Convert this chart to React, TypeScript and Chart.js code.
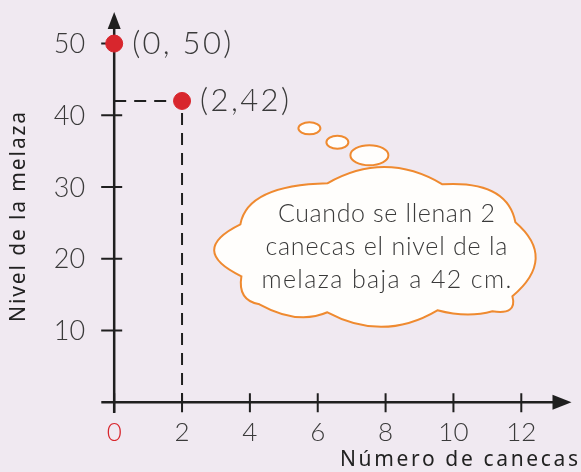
import React, { useEffect, useRef } from "react";
import { Chart, registerables } from "chart.js";

Chart.register(...registerables);

// ---- data ----
const pointX = [0, 2];
const pointY = [50, 42];
const pointLabels = ["(0, 50)", "(2,42)"];
const xTickValues = [0, 2, 4, 6, 8, 10, 12];
const yTickValues = [10, 20, 30, 40, 50];
const xTitle = "Número de canecas";
const yTitle = "Nivel de la melaza";
const cloudText = ["Cuando se llenan 2", "canecas el nivel de la", "melaza baja a 42 cm."];

// ---- styles ----
const BG = "#f0e9f1";
const AXIS = "#1f1f1f";
const TXT = "#3a3a3a";
const RED = "#d8262d";
const ORANGE = "#ef8a30";
const LIGHT = "Lato, 'Open Sans', sans-serif";
const TITLE_FONT = "'Noto Sans', 'DejaVu Sans', sans-serif";

// widths (px) the reference texts occupy
const POINT_LABEL_W = [99, 89];
const CLOUD_LINE_W = [217, 242, 250];
const X_TITLE_W = 238;
const Y_TITLE_W = 210;

// cloud anchor (data units) and shape offsets (px)
const CLOUD_ANCHOR = { x: 7.67, y: 21.6 };
const CLOUD_START: [number, number] = [-134, -23];
const CLOUD_LOBES: [number, number, number, number][] = [
  [-127, -62, -47, -64],
  [11, -97, 68, -63],
  [133, -67, 141, -25],
  [183, 11, 138, 49],
  [143, 68, 118, 64],
  [93, 71, 63, 63],
  [9, 95, -47, 65],
  [-77, 78, -115, 57],
  [-137, 53, -133, 29],
  [-187, 3, -134, -23],
];
const BUBBLES: [number, number, number, number][] = [
  [-65, -119, 11, 6],
  [-37, -105, 11, 6.5],
  [-5, -92, 19, 10],
];

// draw text spread to a given visible width, starting at left x
function fillFit(ctx: any, text: string, left: number, y: number, target: number) {
  ctx.letterSpacing = "0px";
  const w = ctx.measureText(text).width;
  const sp = (target - w) / Math.max(1, text.length - 1);
  ctx.letterSpacing = `${sp}px`;
  ctx.textAlign = "left";
  ctx.fillText(text, left, y);
  ctx.letterSpacing = "0px";
}

const refPlugin = {
  id: "refDecor",
  beforeDatasetsDraw(chart: any) {
    const { ctx } = chart;
    const xs = chart.scales.x;
    const ys = chart.scales.y;
    const x0 = xs.getPixelForValue(0);
    const y0 = ys.getPixelForValue(0);
    const top = ys.getPixelForValue(ys.max);
    const bottom = ys.getPixelForValue(ys.min);
    const left = xs.getPixelForValue(xs.min);
    const right = xs.getPixelForValue(xs.max);
    ctx.save();

    // cloud
    const ax = xs.getPixelForValue(CLOUD_ANCHOR.x);
    const ay = ys.getPixelForValue(CLOUD_ANCHOR.y);
    ctx.lineWidth = 2;
    ctx.strokeStyle = ORANGE;
    ctx.fillStyle = "#fffefc";
    for (const [dx, dy, rx, ry] of BUBBLES) {
      ctx.beginPath();
      ctx.ellipse(ax + dx, ay + dy, rx, ry, 0, 0, Math.PI * 2);
      ctx.fill();
      ctx.stroke();
    }
    ctx.beginPath();
    ctx.moveTo(ax + CLOUD_START[0], ay + CLOUD_START[1]);
    for (const [cx, cy, ex, ey] of CLOUD_LOBES) {
      ctx.quadraticCurveTo(ax + cx, ay + cy, ax + ex, ay + ey);
    }
    ctx.closePath();
    ctx.fill();
    ctx.stroke();
    ctx.fillStyle = TXT;
    ctx.font = `300 25px ${LIGHT}`;
    ctx.textBaseline = "middle";
    cloudText.forEach((t, i) => {
      const cx = ax + 12;
      fillFit(ctx, t, cx - CLOUD_LINE_W[i] / 2, ay + (i - 1) * 33, CLOUD_LINE_W[i]);
    });

    // axes
    ctx.strokeStyle = AXIS;
    ctx.fillStyle = AXIS;
    ctx.lineWidth = 2.5;
    ctx.beginPath();
    ctx.moveTo(x0, bottom);
    ctx.lineTo(x0, top + 14);
    ctx.moveTo(left, y0);
    ctx.lineTo(right - 16, y0);
    ctx.stroke();
    // arrows
    ctx.beginPath();
    ctx.moveTo(x0, top);
    ctx.lineTo(x0 - 6.5, top + 17);
    ctx.lineTo(x0 + 6.5, top + 17);
    ctx.closePath();
    ctx.fill();
    ctx.beginPath();
    ctx.moveTo(right, y0);
    ctx.lineTo(right - 19, y0 - 7.5);
    ctx.lineTo(right - 19, y0 + 7.5);
    ctx.closePath();
    ctx.fill();

    // ticks
    ctx.lineWidth = 2;
    ctx.beginPath();
    for (const v of xTickValues) {
      const px = xs.getPixelForValue(v);
      ctx.moveTo(px, y0 - 9);
      ctx.lineTo(px, y0 + 10);
    }
    for (const v of yTickValues) {
      const py = ys.getPixelForValue(v);
      ctx.moveTo(x0 - 13, py);
      ctx.lineTo(x0 + 8, py);
    }
    ctx.stroke();

    // tick labels
    ctx.font = `300 26px ${LIGHT}`;
    ctx.textAlign = "center";
    ctx.textBaseline = "middle";
    for (const v of xTickValues) {
      ctx.fillStyle = v === 0 ? RED : TXT;
      ctx.fillText(String(v), xs.getPixelForValue(v), y0 + 30);
    }
    ctx.fillStyle = TXT;
    ctx.textAlign = "right";
    ctx.font = `300 27px ${LIGHT}`;
    for (const v of yTickValues) {
      ctx.fillText(String(v), x0 - 29, ys.getPixelForValue(v) + 1);
    }

    // titles
    ctx.fillStyle = "#222";
    ctx.font = `400 21px ${TITLE_FONT}`;
    ctx.textBaseline = "middle";
    fillFit(ctx, xTitle, chart.width - 3 - X_TITLE_W, y0 + 58, X_TITLE_W);
    const yMid = (y0 + ys.getPixelForValue(yTickValues[yTickValues.length - 1])) / 2 - 6;
    ctx.save();
    ctx.translate(19.5, yMid);
    ctx.rotate(-Math.PI / 2);
    fillFit(ctx, yTitle, -Y_TITLE_W / 2, 0, Y_TITLE_W);
    ctx.restore();
    ctx.restore();
  },
  afterDatasetsDraw(chart: any) {
    const { ctx } = chart;
    const xs = chart.scales.x;
    const ys = chart.scales.y;
    ctx.save();
    ctx.fillStyle = TXT;
    ctx.font = `300 31px ${LIGHT}`;
    ctx.textBaseline = "middle";
    pointLabels.forEach((t, i) => {
      fillFit(ctx, t, xs.getPixelForValue(pointX[i]) + 18, ys.getPixelForValue(pointY[i]), POINT_LABEL_W[i]);
    });
    ctx.restore();
  },
};

export default function App() {
  const ref = useRef<HTMLCanvasElement | null>(null);
  useEffect(() => {
    if (!ref.current) return;
    const pts = pointX.map((x, i) => ({ x, y: pointY[i] }));
    const gx = pointX[1];
    const gy = pointY[1];
    const guide = [
      { x: 0, y: gy },
      { x: gx, y: gy },
      { x: gx, y: 0 },
    ];
    const chart = new Chart(ref.current, {
      type: "scatter",
      data: {
        datasets: [
          {
            data: pts,
            backgroundColor: RED,
            borderColor: RED,
            pointRadius: 8.5,
            pointHoverRadius: 8.5,
            showLine: false,
          },
          {
            data: guide,
            showLine: true,
            borderColor: AXIS,
            borderWidth: 2,
            borderDash: [12, 8],
            pointRadius: 0,
            fill: false,
          } as any,
        ],
      },
      options: {
        animation: false,
        responsive: false,
        events: [],
        layout: { padding: { left: 101.3, right: 4.7, top: 12, bottom: 59 } },
        plugins: { legend: { display: false }, tooltip: { enabled: false } },
        scales: {
          x: { type: "linear", display: false, min: -0.38, max: 13.48 },
          y: { type: "linear", display: false, min: -1.5, max: 54.4 },
        },
      },
      plugins: [refPlugin],
    });
    return () => chart.destroy();
  }, []);
  return (
    <div style={{ position: "fixed", left: 0, top: 0, width: 581, height: 472, background: BG }}>
      <canvas ref={ref} width={581} height={472} style={{ display: "block" }} />
    </div>
  );
}
